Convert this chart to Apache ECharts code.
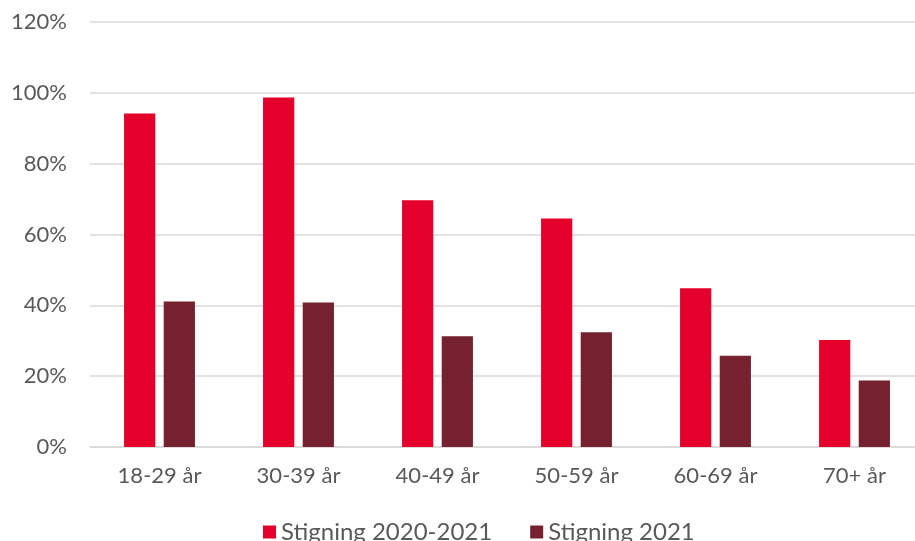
<!DOCTYPE html>
<html><head><meta charset="utf-8">
<script src="https://cdn.jsdelivr.net/npm/echarts@6/dist/echarts.min.js"></script>
<style>html,body{margin:0;padding:0;background:#fff;overflow:hidden;width:915px;height:541px}#c{width:930px;height:541px}</style>
</head><body><div id="c"></div>
<script>
const categories = ['18-29 år','30-39 år','40-49 år','50-59 år','60-69 år','70+ år'];
const seriesNames = ['Stigning 2020-2021','Stigning 2021'];
const stigning20202021 = [94.2, 98.7, 69.7, 64.5, 44.8, 30.2];
const stigning2021 = [41.1, 40.8, 31.3, 32.4, 25.8, 18.8];
const yTicks = [0, 20, 40, 60, 80, 100, 120];

const font = 'Lato';
const chart = echarts.init(document.getElementById('c'));
chart.setOption({
  animation: false,
  grid: { left: 90, right: 6, top: 22, bottom: 94, containLabel: false },
  legend: {
    bottom: -8, left: 258,
    itemWidth: 13, itemHeight: 13, itemGap: 38,
    icon: 'rect',
    textStyle: { color: '#595959', fontFamily: font, fontSize: 24 },
    data: seriesNames
  },
  xAxis: {
    type: 'category', data: categories,
    axisLine: { lineStyle: { color: '#d9d9d9', width: 1.5 } },
    axisTick: { show: false },
    axisLabel: { color: '#595959', fontFamily: font, fontSize: 22, margin: 18 }
  },
  yAxis: {
    type: 'value', min: yTicks[0], max: yTicks[yTicks.length-1], interval: 20,
    axisLine: { show: false }, axisTick: { show: false },
    splitLine: { lineStyle: { color: '#d9d9d9', width: 1.5 } },
    axisLabel: { color: '#595959', fontFamily: font, fontSize: 22, margin: 23, formatter: v => v + '%' }
  },
  series: [
    { name: seriesNames[0], type: 'bar', data: stigning20202021, itemStyle: { color: '#E4002B' }, barGap: '27%', barCategoryGap: '49%' },
    { name: seriesNames[1], type: 'bar', data: stigning2021, itemStyle: { color: '#76212F' } }
  ]
});
</script></body></html>
